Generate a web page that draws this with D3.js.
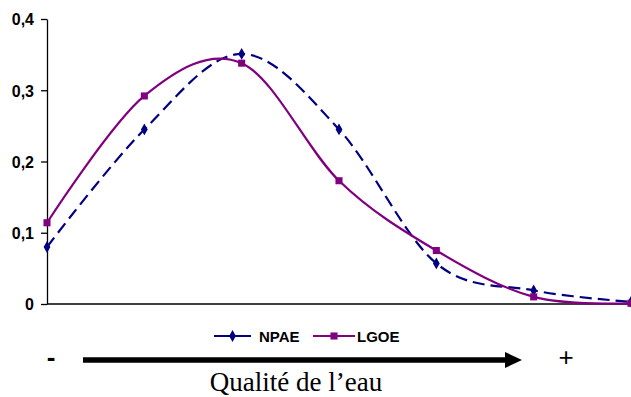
<!DOCTYPE html>
<html>
<head>
<meta charset="utf-8">
<script src="https://cdn.jsdelivr.net/npm/d3@7"></script>
<style>
  html, body { margin: 0; padding: 0; background: #fff; }
  svg { display: block; }
</style>
</head>
<body>
<svg id="chart" width="631" height="397"></svg>
<script>
// Distribution of two indices along the water-quality gradient
const classes = [1, 2, 3, 4, 5, 6, 7];
const npae = [0.080, 0.245, 0.351, 0.245, 0.057, 0.019, 0.003];
const lgoe = [0.114, 0.292, 0.338, 0.173, 0.075, 0.010, 0.001];
const yTicks = [0, 0.1, 0.2, 0.3, 0.4];
const yTickLabels = ["0", "0,1", "0,2", "0,3", "0,4"];
const seriesNames = ["NPAE", "LGOE"];
const axisTitle = "Qualité de l\u2019eau";

const svg = d3.select("#chart");
const plotLeft = 47, plotRight = 631, plotTop = 19, plotBottom = 304;

const x = d3.scalePoint().domain(classes).range([plotLeft, plotRight]);
const y = d3.scaleLinear().domain([0, 0.4]).range([plotBottom, plotTop]);

// y axis
const yAxis = d3.axisLeft(y)
  .tickValues(yTicks)
  .tickFormat((d, i) => yTickLabels[i])
  .tickSizeInner(6).tickSizeOuter(0).tickPadding(7);
const gy = svg.append("g").attr("transform", `translate(${plotLeft},0)`).call(yAxis);
gy.attr("font-size", null).attr("font-family", null);
gy.select(".domain").attr("stroke", "#000").attr("stroke-width", 1.3);
gy.selectAll(".tick line").attr("stroke", "#000").attr("stroke-width", 1.3);
gy.selectAll(".tick text")
  .attr("fill", "#000")
  .attr("dy", "0.36em")
  .style("font-family", "'Liberation Sans', Arial, sans-serif")
  .style("font-size", "16px")
  .style("font-weight", "bold");

// x axis baseline
svg.append("line")
  .attr("x1", plotLeft).attr("x2", plotRight)
  .attr("y1", y(0)).attr("y2", y(0))
  .attr("stroke", "#000").attr("stroke-width", 1.3);

const line = d3.line()
  .x((d, i) => x(classes[i]))
  .y(d => y(d))
  .curve(d3.curveCardinal.tension(0));

const diamond = d3.symbol().type(d3.symbolDiamond).size(40);
const square = d3.symbol().type(d3.symbolSquare).size(50);

const series = [
  { name: seriesNames[0], values: npae, color: "#000080", dash: "12,6", symbol: diamond },
  { name: seriesNames[1], values: lgoe, color: "#800080", dash: null, symbol: square }
];

series.forEach(s => {
  svg.append("path")
    .datum(s.values)
    .attr("fill", "none")
    .attr("stroke", s.color)
    .attr("stroke-width", 2.2)
    .attr("stroke-dasharray", s.dash)
    .attr("d", line);
  svg.append("g").selectAll("path")
    .data(s.values)
    .join("path")
    .attr("transform", (d, i) => `translate(${x(classes[i])},${y(d)})`)
    .attr("d", s.symbol())
    .attr("fill", s.color);
});

// legend
const legend = svg.append("g").attr("transform", "translate(214,336)");
const legendItems = [
  { x: 0, lineW: 37, textX: 45 },
  { x: 99, lineW: 42, textX: 44 }
];
series.forEach((s, i) => {
  const it = legendItems[i];
  const g = legend.append("g").attr("transform", `translate(${it.x},0)`);
  g.append("line").attr("x1", 0).attr("x2", it.lineW).attr("y1", 0).attr("y2", 0)
    .attr("stroke", s.color).attr("stroke-width", 2.2);
  g.append("path").attr("transform", `translate(${it.lineW / 2},0)`)
    .attr("d", s.symbol()).attr("fill", s.color);
  g.append("text").attr("x", it.textX).attr("y", 5.5)
    .text(s.name)
    .style("font-family", "'Liberation Sans', Arial, sans-serif")
    .style("font-size", "15px")
    .style("font-weight", "bold");
});

// quality gradient arrow
svg.append("line")
  .attr("x1", 83).attr("x2", 508).attr("y1", 360).attr("y2", 360)
  .attr("stroke", "#000").attr("stroke-width", 5.5);
svg.append("path")
  .attr("d", "M505,352 L522,360 L505,368 Z")
  .attr("fill", "#000");

svg.append("text").attr("x", 51).attr("y", 366).attr("text-anchor", "middle")
  .text("-")
  .style("font-family", "'Liberation Sans', Arial, sans-serif")
  .style("font-size", "26px").style("font-weight", "bold");
svg.append("text").attr("x", 566).attr("y", 366).attr("text-anchor", "middle")
  .text("+")
  .style("font-family", "'Liberation Sans', Arial, sans-serif")
  .style("font-size", "26px");

svg.append("text").attr("x", 296).attr("y", 391).attr("text-anchor", "middle")
  .text(axisTitle)
  .style("font-family", "'Liberation Serif', 'Times New Roman', serif")
  .style("font-size", "27px");
</script>
</body>
</html>
